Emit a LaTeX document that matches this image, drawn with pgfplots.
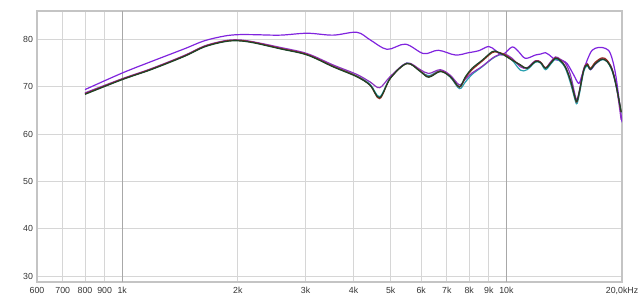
\documentclass[border=0pt]{standalone}
\usepackage{fontspec}
\setmainfont{Liberation Sans}
\usepackage{pgfplots}
\pgfplotsset{compat=1.18}
\usepackage{pgfplotstable}
\definecolor{ptop}{RGB}{128,36,222}
\definecolor{pclu}{RGB}{140,50,190}
\definecolor{gcl}{RGB}{28,68,40}
\definecolor{rcl}{RGB}{150,40,30}
\definecolor{ccl}{RGB}{40,160,175}
\definecolor{gridc}{RGB}{214,214,214}
\definecolor{gridd}{RGB}{168,168,168}
\definecolor{framec}{RGB}{196,196,196}

\pgfplotstableread{
f db
800 69.4
1000 72.9
1188 75.3
1450 78.0
1635 79.7
1843 80.7
2000 81.0
2200 81.0
2580 80.9
3030 81.3
3540 80.9
4080 81.5
4420 79.9
4890 77.9
5460 79.0
6090 77.0
6650 77.7
7370 76.7
7980 77.2
8470 77.6
8990 78.5
9360 77.7
9750 76.7
10350 78.4
10760 77.4
11210 76.0
11900 76.7
12270 76.9
12640 77.2
12890 76.8
13420 75.7
13970 75.5
14390 74.9
14970 72.5
15430 70.7
15740 72.5
16230 75.6
16720 77.7
17390 78.3
18100 78.1
18660 77.0
19230 72.8
19810 65.1
20000 62.5
}\ptop

\pgfplotstableread{
f db
800 68.4
1000 71.5
1188 73.6
1450 76.4
1635 78.4
1843 79.5
2000 79.7
2190 79.3
2580 78.0
3030 76.7
3540 74.2
4080 72.1
4420 70.3
4680 67.7
4990 71.8
5510 74.9
5970 73.2
6280 72.0
6730 73.2
7150 72.1
7545 70.0
7820 72.1
8140 73.9
8645 75.6
9180 77.4
9460 77.4
9840 76.7
10350 75.6
10880 74.6
11320 73.9
11900 75.3
12270 75.1
12640 73.9
13020 74.9
13420 76.0
13820 75.5
14240 74.2
14680 71.4
15120 67.5
15280 67.0
15520 69.3
15900 73.5
16230 74.6
16550 73.7
17050 74.9
17750 75.8
18290 75.3
18850 73.5
19340 70.0
19900 64.7
}\green

\pgfplotstableread{
f db
800 68.5
1000 71.6
1188 73.7
1450 76.5
1635 78.5
1843 79.6
2000 79.8
2190 79.4
2580 78.1
3030 76.8
3540 74.3
4080 72.2
4420 70.3
4680 67.5
4990 71.8
5510 74.9
5970 73.3
6280 72.1
6730 73.3
7150 72.1
7545 69.9
7820 71.9
8140 73.6
8645 75.4
9180 77.2
9460 77.3
9840 76.9
10350 75.7
10880 74.6
11320 73.9
11900 75.4
12270 75.2
12640 74.0
13020 75.0
13420 76.1
13820 75.6
14240 74.2
14680 71.3
15120 67.4
15280 66.9
15520 69.3
15900 73.6
16230 74.8
16550 73.9
17050 75.2
17750 76.1
18290 75.6
18850 73.6
19340 70.0
19900 64.6
}\red

\pgfplotstableread{
f db
800 68.6
1000 71.6
1188 73.7
1450 76.5
1635 78.5
1843 79.6
2000 79.8
2190 79.4
2580 78.1
3030 76.8
3540 74.4
4080 72.3
4420 70.5
4680 67.9
4990 71.9
5510 75.0
5970 73.3
6280 72.3
6730 73.4
7150 72.0
7545 69.6
7820 71.0
8140 72.6
8645 74.2
9180 75.9
9460 76.5
9840 76.9
10350 75.6
10880 73.5
11320 73.6
11900 75.2
12270 75.0
12640 73.6
13020 74.7
13420 75.8
13820 75.3
14240 73.9
14680 70.8
15120 67.0
15280 66.5
15520 68.8
15900 73.2
16230 74.4
16550 73.6
17050 74.8
17750 75.7
18290 75.3
18850 73.3
19340 69.8
19900 64.5
}\cyan

\pgfplotstableread{
f db
800 68.7
1000 71.7
1188 73.8
1450 76.6
1635 78.6
1843 79.7
2000 79.9
2190 79.5
2580 78.3
3030 77.0
3540 74.6
4080 72.6
4420 71.0
4680 69.8
4990 72.2
5510 75.0
5970 73.6
6280 72.8
6730 73.6
7150 72.4
7545 70.4
7820 71.6
8140 72.9
8645 74.3
9180 76.0
9460 76.6
9840 77.0
10350 76.0
10880 74.2
11320 74.0
11900 75.5
12270 75.2
12640 74.0
13020 75.2
13420 76.3
13820 75.8
14240 75.0
14680 72.5
15120 68.0
15280 67.3
15520 69.5
15900 73.8
16230 74.9
16550 73.6
17050 74.8
17750 75.9
18290 75.4
18850 73.8
19340 70.0
19900 63.0
}\pclu

\begin{document}
\begin{tikzpicture}
\begin{axis}[
  at={(0,0)}, anchor=south west,
  scale only axis, width=585bp, height=271bp,
  xmode=log, xmin=600, xmax=20000,
  ymin=28.75, ymax=86,
  xtick={600,700,800,900,2000,3000,4000,5000,6000,7000,8000,9000,20000},
  xticklabels={600,700,800,900,2k,3k,4k,5k,6k,7k,8k,9k,{20,0kHz}},
  extra x ticks={1000,10000},
  extra x tick labels={1k,10k},
  extra x tick style={grid style={draw=gridd, line width=1bp}},
  ytick={30,40,50,60,70,80},
  yticklabels={30,40,50,60,70,80},
  /pgf/number format/assume math mode=true,
  major tick length=0pt,
  grid=major,
  grid style={draw=gridc, line width=1bp},
  axis line style={draw=framec, line width=1.6bp},
  tick label style={font=\fontsize{8.8bp}{10bp}\selectfont, text=black!80},
  xticklabel shift=1.5bp,
  yticklabel shift=0.5bp,
  clip=true,
]
\addplot[ptop, line width=1.2bp, smooth, tension=0.55] table[x=f,y=db]{\ptop};
\addplot[ccl, line width=1.2bp, smooth, tension=0.55] table[x=f,y=db]{\cyan};
\addplot[pclu, line width=1.2bp, smooth, tension=0.55] table[x=f,y=db]{\pclu};
\addplot[rcl, line width=1.2bp, smooth, tension=0.55] table[x=f,y=db]{\red};
\addplot[gcl, line width=1.2bp, smooth, tension=0.55] table[x=f,y=db]{\green};
\node[font=\fontsize{8.8bp}{10bp}\selectfont, text=black!80] at (rel axis cs:0,1) [xshift=-10bp, yshift=6.5bp] {dB};
\end{axis}
\pgfresetboundingbox
\path[use as bounding box] (-37bp,-18bp) rectangle (603bp,282bp);
\end{tikzpicture}
\end{document}
